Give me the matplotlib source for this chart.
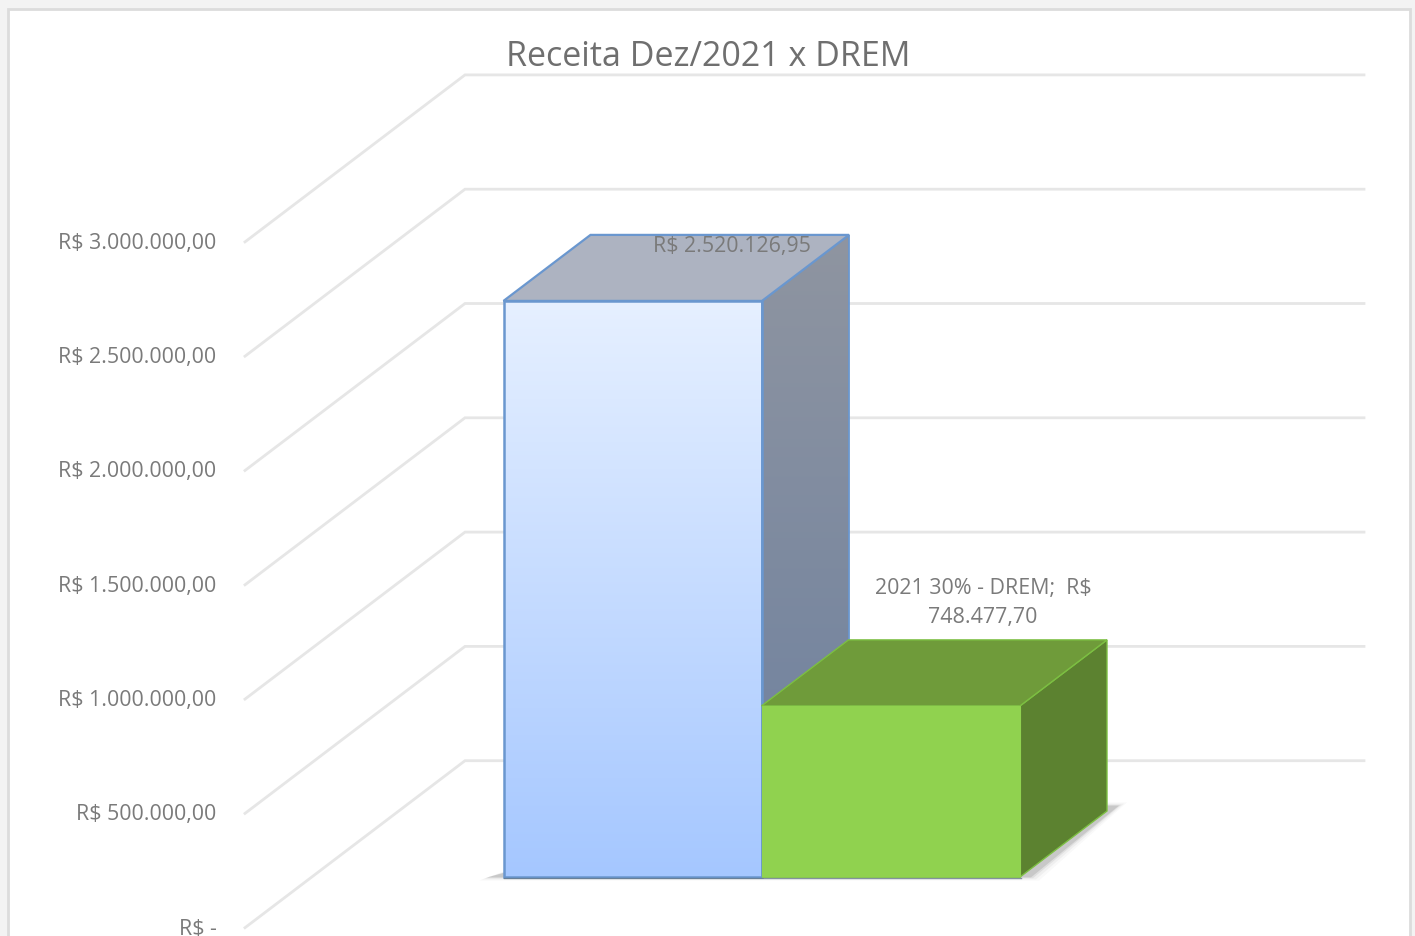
import numpy as np
import matplotlib
matplotlib.use("Agg")
import matplotlib.pyplot as plt
from matplotlib.colors import LinearSegmentedColormap
from matplotlib.patches import Polygon, Rectangle

plt.rcParams['font.family'] = ['Open Sans', 'DejaVu Sans']

# data
tick_values = [0, 500000, 1000000, 1500000, 2000000, 2500000, 3000000]
tick_labels = ['R$ -', 'R$ 500.000,00', 'R$ 1.000.000,00', 'R$ 1.500.000,00',
               'R$ 2.000.000,00', 'R$ 2.500.000,00', 'R$ 3.000.000,00']
bar_values = [2520126.95, 748477.70]
bar_labels = ['R$ 2.520.126,95', '2021 30% - DREM;  R$\n748.477,70']
title = 'Receita Dez/2021 x DREM'

W, H = 1415, 937
PX_PER_UNIT = 228.6 / 1e6   # pixels per R$ on the y axis
Y0 = 761.7                  # pixel row of value 0 on the back wall


def v(px):
    """Pixel row to value, y axis is in R$."""
    return (Y0 - px) / PX_PER_UNIT


def h(px):
    """Pixel height to value height."""
    return px / PX_PER_UNIT


def shade(ax, poly, top_color, bottom_color, y_top, y_bottom):
    """Fill a polygon with a vertical gradient."""
    cmap = LinearSegmentedColormap.from_list('g', [top_color, bottom_color])
    xs = [p[0] for p in poly]
    im = ax.imshow(np.linspace(0, 1, 256).reshape(-1, 1), cmap=cmap, aspect='auto',
                   extent=(min(xs), max(xs), y_bottom, y_top), zorder=3, origin='upper')
    clip = Polygon(poly, closed=True, transform=ax.transData, fc='none', ec='none')
    ax.add_patch(clip)
    im.set_clip_path(clip)


fig = plt.figure(figsize=(W / 100, H / 100), dpi=100, facecolor='#f3f3f3')
ax = fig.add_axes([0, 0, 1, 1])
ax.set_xlim(0, W)
ax.set_ylim(v(H), v(0))
ax.axis('off')

# chart frame
ax.add_patch(Rectangle((7.5, v(H + 20)), 1402, h(H + 20 - 9.5), fc='white', ec='#dcdcdc', lw=2, zorder=0))

# walls: gridlines and axis labels
wall_x0, wall_x1, wall_x2 = 245, 465, 1364
depth_h = h(167)
for val, lab in zip(tick_values, tick_labels):
    ax.plot([wall_x0, wall_x1, wall_x2], [val - depth_h, val, val], color='#e6e6e6', lw=2, zorder=1,
            solid_joinstyle='miter')
    ax.text(216.5, val - depth_h - h(0.5), lab, ha='right', va='center', fontsize=15.4, color='#7a7a7a', zorder=6)

ax.text(708.5, v(56.5), title, ha='center', va='center', fontsize=24.5, color='#6f6f6f', zorder=6)

# bars
bar_w = 258.5
dx, dy = 87, h(66)
x_left = 503.5
base = -h(878 - Y0)

# floor shadow
for grow, alpha in [(9, 0.03), (6, 0.05), (3, 0.09), (1, 0.14)]:
    shadow = [(488 - grow, base - h(grow * 0.4)), (1030 + grow, base - h(grow * 0.4)),
              (1118 + grow, base + dy + h(5) + h(grow * 0.4)), (1095, base + dy + h(5) + h(grow * 0.4)),
              (1000, base + h(5)), (520, base + h(8) + h(grow * 0.4))]
    ax.add_patch(Polygon(shadow, closed=True, fc='#404040', ec='none', alpha=alpha, zorder=2))

# first bar
x0, x1 = x_left, x_left + bar_w
top = base + bar_values[0]
side = [(x1, top), (x1 + dx, top + dy), (x1 + dx, base + dy), (x1, base)]
shade(ax, side, '#8f95a1', '#70829f', top + dy, base + dy)
ax.add_patch(Polygon(side, closed=True, fc='none', ec='#6a97cf', lw=1.3, zorder=4))
top_face = [(x0, top), (x0 + dx, top + dy), (x1 + dx, top + dy), (x1, top)]
ax.add_patch(Polygon(top_face, closed=True, fc='#adb3c1', ec='#6a97cf', lw=1.6, zorder=4))
front = [(x0, top), (x1, top), (x1, base), (x0, base)]
shade(ax, front, '#e6f0ff', '#a5c7ff', top, base)
ax.add_patch(Polygon(front, closed=True, fc='none', ec='#6a97cf', lw=1.8, zorder=4))

# second bar
x0, x1 = x_left + bar_w - 0.5, x_left + 2 * bar_w - 0.5
top = base + bar_values[1]
side = [(x1, top), (x1 + dx, top + dy), (x1 + dx, base + dy), (x1, base)]
ax.add_patch(Polygon(side, closed=True, fc='#5c8230', ec='#7cbf42', lw=1, zorder=5))
top_face = [(x0, top), (x0 + dx, top + dy), (x1 + dx, top + dy), (x1, top)]
ax.add_patch(Polygon(top_face, closed=True, fc='#6f9b3a', ec='#7cbf42', lw=1, zorder=5))
ax.add_patch(Polygon([(x0, top), (x1, top), (x1, base), (x0, base)], closed=True,
                     fc='#90d24f', ec='#90d24f', lw=0.8, zorder=5))

# darker lip along the floor edge
ax.plot([x_left, x_left + 2 * bar_w], [base - h(0.8), base - h(0.8)], color='#5a6f80', lw=1, alpha=0.7, zorder=5)

# data labels
ax.text(731.5, v(246.5), bar_labels[0], ha='center', va='center',
        fontsize=15.4, color='#7a7a7a', zorder=6)
ax.text(983, v(603), bar_labels[1], ha='center', va='center',
        fontsize=15.4, color='#7a7a7a', zorder=6, linespacing=1.55)

fig.savefig('out.png', dpi=100, facecolor=fig.get_facecolor())
